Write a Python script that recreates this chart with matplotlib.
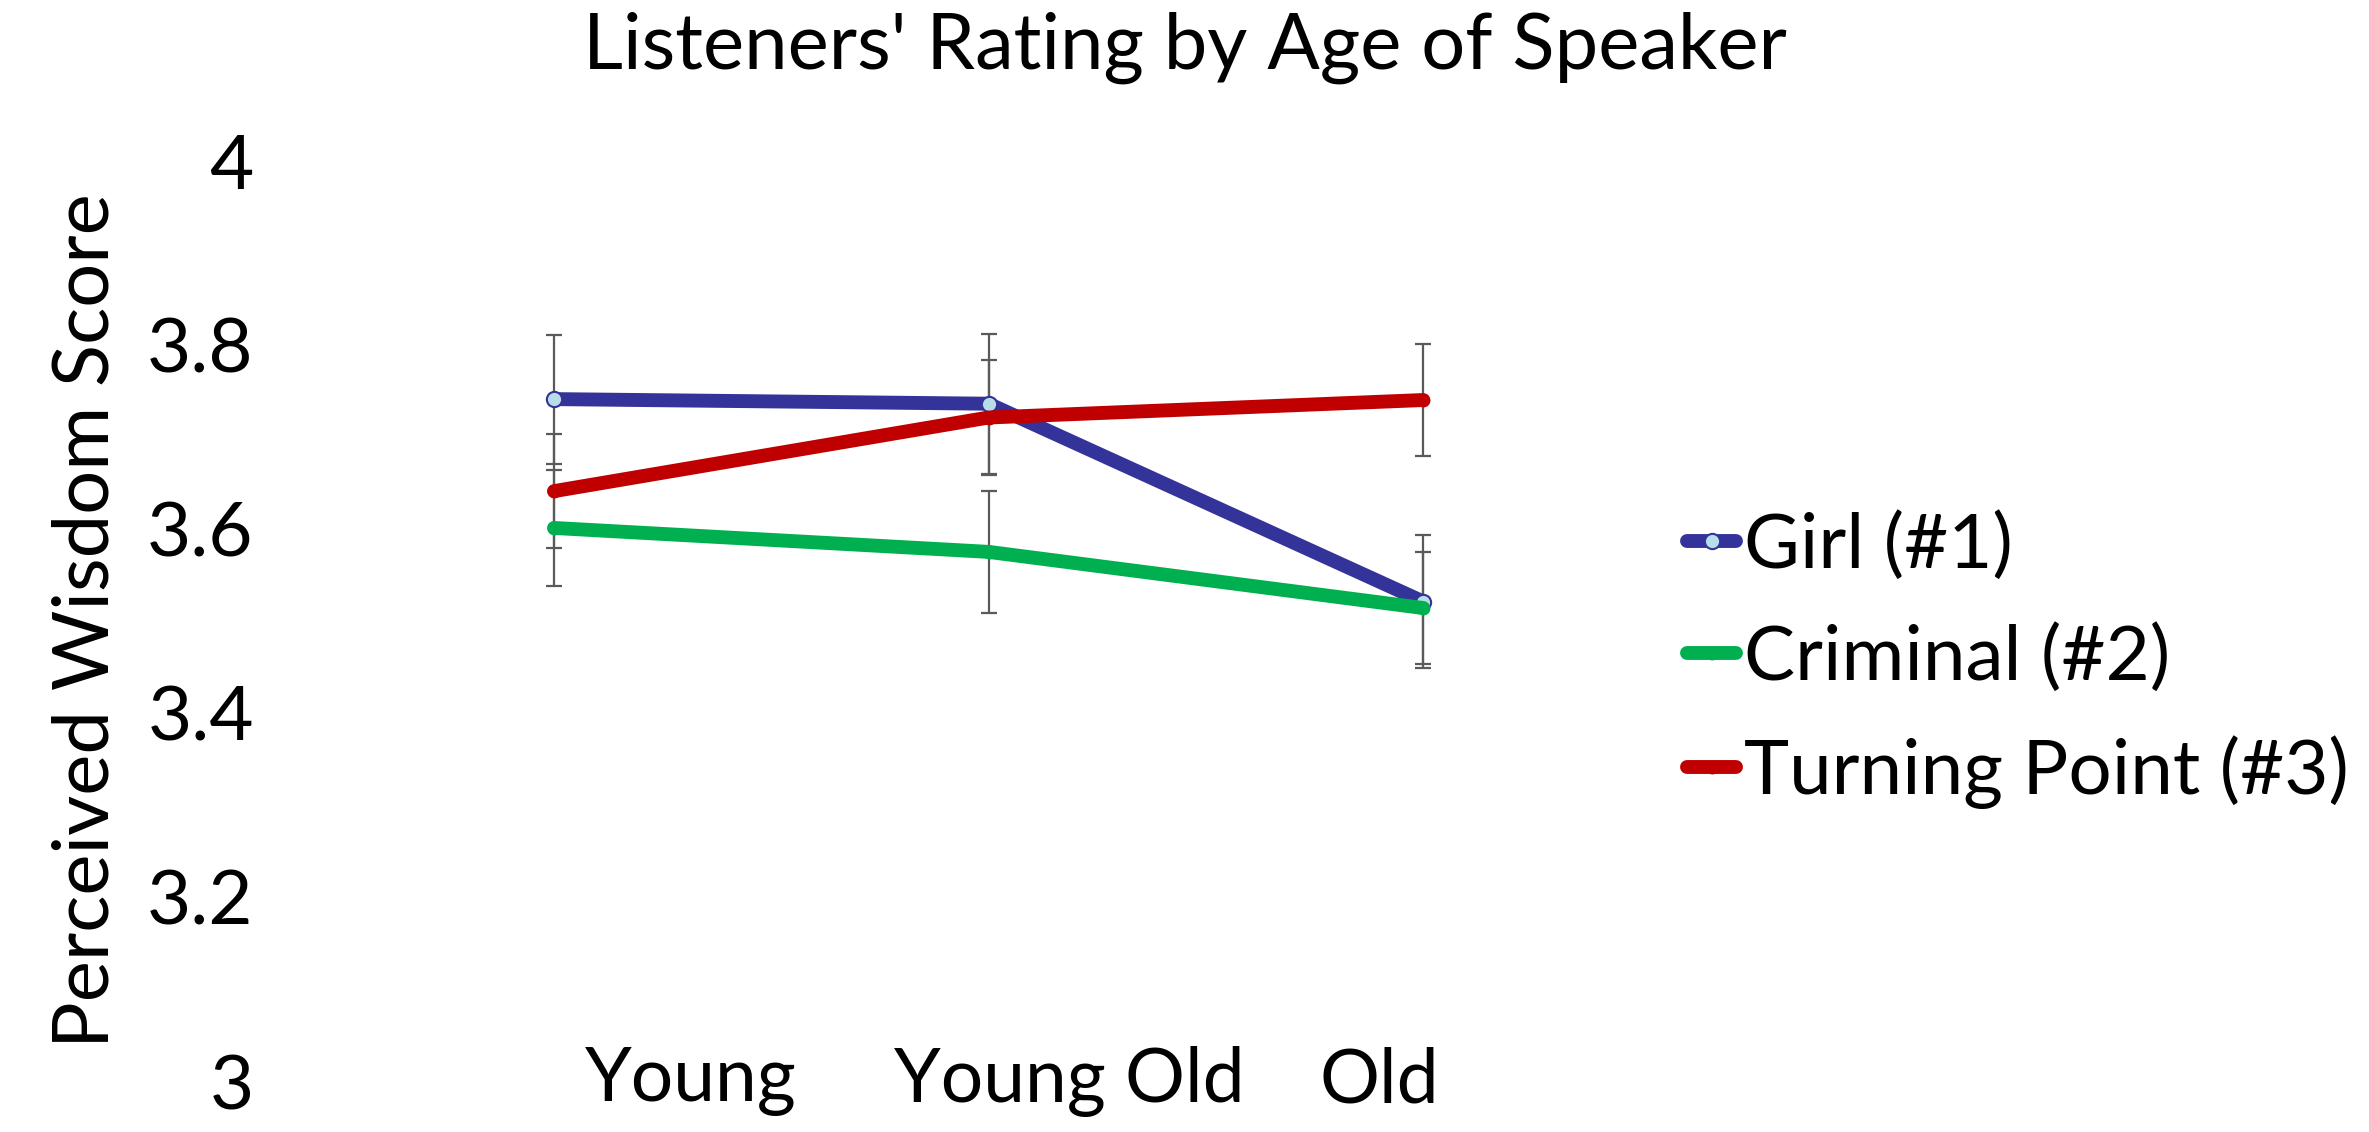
import numpy as np
import matplotlib.pyplot as plt

plt.rcParams['font.family'] = ['Lato', 'DejaVu Sans']

# Data
ages = ['Young', 'Young Old', 'Old']
series = ['Girl (#1)', 'Criminal (#2)', 'Turning Point (#3)']
girl = [3.741, 3.736, 3.521]
girl_err = [0.070, 0.076, 0.072]
criminal = [3.601, 3.575, 3.514]
criminal_err = [0.063, 0.066, 0.061]
turning = [3.641, 3.721, 3.740]
turning_err = [0.062, 0.063, 0.061]

colors = ['#333399', '#00B050', '#C00000']
x = np.arange(len(ages))

fig = plt.figure(figsize=(23.69, 11.32), dpi=100)
ax = fig.add_axes([0.1224, 0.045, 0.553, 0.813])

vals = [girl, criminal, turning]
errs = [girl_err, criminal_err, turning_err]

# error bars below the lines
for v, e in zip(vals, errs):
    ax.errorbar(x, v, yerr=e, fmt='none', ecolor='#5a5a5a', elinewidth=1.6,
                capsize=6, capthick=1.6, zorder=1)

for i, (v, name, c) in enumerate(zip(vals, series, colors)):
    if i == 0:
        ax.plot(x, v, color=c, lw=10, solid_capstyle='round', marker='o',
                markersize=11, markerfacecolor='#B7DEE8', markeredgecolor=c,
                markeredgewidth=1.5, label=name, zorder=2 + i)
    else:
        ax.plot(x, v, color=c, lw=10, solid_capstyle='round', marker='o',
                markersize=9, markerfacecolor=c, markeredgecolor=c,
                label=name, zorder=2 + i)

ax.set_xlim(-0.6076, 2.407)
ax.set_ylim(3, 4)
ax.set_yticks([3, 3.2, 3.4, 3.6, 3.8, 4])
ax.set_yticklabels(['3', '3.2', '3.4', '3.6', '3.8', '4'])
ax.tick_params(axis='y', length=0, pad=26, labelsize=55)
ax.set_xticks([])
for s in ax.spines.values():
    s.set_visible(False)

# category labels sit a bit off the points, as in the original
label_x = [0.315, 1.186, 1.90]
for lx, lab in zip(label_x, ages):
    ax.text(lx, 3.0, lab, ha='center', va='center', fontsize=54, clip_on=False)

ax.set_ylabel('Perceived Wisdom Score', fontsize=56, labelpad=18)
fig.suptitle("Listeners' Rating by Age of Speaker", fontsize=56, y=0.99)

fig.legend(loc='center left', bbox_to_anchor=(0.712, 0.417), frameon=False,
           fontsize=55, handlelength=0.65, handletextpad=0.1, borderpad=0,
           borderaxespad=0, labelspacing=0.55)

fig.savefig('out.png', dpi=100)
